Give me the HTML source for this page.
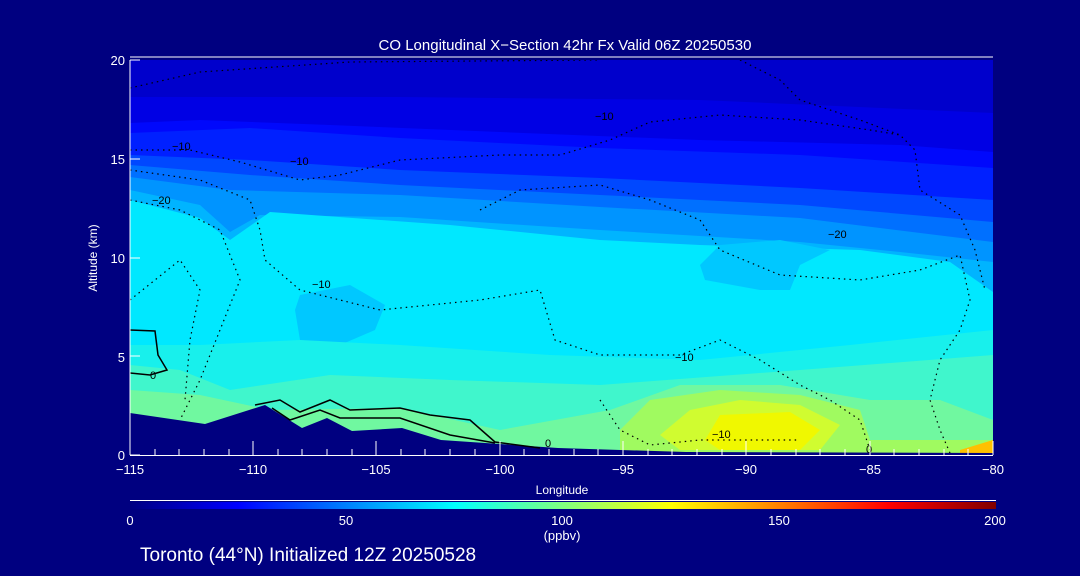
<!DOCTYPE html>
<html><head><meta charset="utf-8"><style>
html,body{margin:0;padding:0;background:#000080;}
svg{display:block;}
text{font-family:"Liberation Sans",sans-serif;fill:#fff;}
.cl{fill:#000;font-size:11px;}
</style></head><body>
<svg width="1080" height="576" viewBox="0 0 1080 576" xmlns="http://www.w3.org/2000/svg">
<rect width="1080" height="576" fill="#000080"/>
<defs>
<clipPath id="c"><rect x="130" y="60" width="863" height="395"/></clipPath>
<linearGradient id="cb" x1="0" x2="1" y1="0" y2="0">
<stop offset="0" stop-color="#000080"/>
<stop offset="0.125" stop-color="#0000ff"/>
<stop offset="0.375" stop-color="#00ffff"/>
<stop offset="0.5" stop-color="#80ff80"/>
<stop offset="0.625" stop-color="#ffff00"/>
<stop offset="0.875" stop-color="#ff0000"/>
<stop offset="1" stop-color="#800000"/>
</linearGradient>
</defs>
<g clip-path="url(#c)">
<rect x="130" y="60" width="863" height="395" fill="#0000cc"/>
<path d="M130 97 L400 97 L700 100 L993 113 L993 455 L130 455Z" fill="#0000e4"/>
<path d="M130 123 L200 120 L330 125 L500 132 L700 140 L900 145 L993 152 L993 455 L130 455Z" fill="#0008fc"/>
<path d="M130 133 L250 128 L400 138 L600 148 L800 155 L993 168 L993 455 L130 455Z" fill="#0020ff"/>
<path d="M130 155 L250 160 L400 170 L600 178 L800 188 L993 200 L993 455 L130 455Z" fill="#0048ff"/>
<path d="M130 165 L250 175 L400 185 L600 195 L800 205 L993 222 L993 455 L130 455Z" fill="#0070ff"/>
<path d="M130 177 L230 190 L400 195 L600 207 L800 218 L993 242 L993 455 L130 455Z" fill="#0094ff"/>
<path d="M130 190 L200 205 L230 232 L260 215 L400 217 L600 230 L800 242 L900 252 L993 262 L993 455 L130 455Z" fill="#00b4ff"/>
<path d="M130 200 L200 218 L230 240 L270 212 L450 225 L600 240 L700 245 L860 250 L950 262 L993 292 L993 455 L130 455Z" fill="#00e8ff"/>
<path d="M700 265 L720 245 L780 240 L830 250 L800 265 L790 290 L760 290 L705 280Z" fill="#00c8ff"/>
<path d="M295 310 L300 295 L350 285 L385 305 L375 330 L340 345 L300 340Z" fill="#00c8ff"/>
<path d="M130 345 L200 345 L300 340 L400 345 L550 355 L700 360 L850 345 L993 330 L993 455 L130 455Z" fill="#18f0ec"/>
<path d="M130 365 L180 370 L230 390 L330 375 L450 380 L600 385 L800 370 L993 355 L993 455 L130 455Z" fill="#40f6cc"/>
<path d="M130 390 L200 395 L270 410 L400 408 L500 430 L610 410 L680 385 L780 385 L870 400 L940 400 L993 420 L993 455 L130 455Z" fill="#70f8a0"/>
<path d="M620 430 L650 400 L720 390 L800 395 L860 410 L870 440 L993 440 L993 455 L620 455Z" fill="#a0fa60"/>
<path d="M660 435 L690 410 L740 400 L800 405 L840 425 L820 450 L680 450Z" fill="#d0fc30"/>
<path d="M705 440 L720 415 L790 412 L820 430 L800 450 L720 450Z" fill="#f0f800"/>
<path d="M960 450 L993 440 L993 455 L960 455Z" fill="#ffc000"/>
<path d="M130 413 L205 424 L265 405 L302 428 L327 418 L352 431 L402 428 L441 440 L558 448 L686 452 L997 453 L997 460 L130 460Z" fill="#000080"/>
<path d="M130 330 L155 331 L158 355 L167 370 L150 375 L130 373" fill="none" stroke="#000" stroke-width="1.5"/>
<path d="M255 405 L280 400 L300 412 L330 400 L350 410 L400 408 L430 415 L470 420 L495 442 L540 448" fill="none" stroke="#000" stroke-width="1.5"/>
<path d="M272 408 L290 420 L320 410 L340 418 L400 418 L450 435 L495 443" fill="none" stroke="#000" stroke-width="1.5"/>
<g fill="none" stroke="#000" stroke-width="1.2" stroke-dasharray="1.5 4">
<path d="M130 88 L200 72 L350 62 L600 60"/>
<path d="M740 60 L780 80 L800 100 L860 120 L900 135 L915 150 L920 190 L960 215 L975 250 L985 290"/>
<path d="M130 150 L190 150 L240 162 L300 180 L340 175 L400 160 L500 155 L560 155 L610 140 L650 122 L720 115 L800 120 L870 130 L900 135"/>
<path d="M130 170 L200 180 L250 200 L260 230 L265 260 L300 290 L340 300 L380 310 L480 300 L540 290 L555 340 L600 355 L680 355 L720 340 L760 360 L800 385 L830 400 L860 420 L870 450"/>
<path d="M130 200 L180 210 L220 230 L240 280 L220 330 L200 380 L180 420"/>
<path d="M130 300 L180 260 L200 290 L190 340 L185 400"/>
<path d="M480 210 L520 190 L600 185 L650 200 L700 220 L720 250 L780 275 L860 280 L920 270 L960 255 L970 300 L960 330 L940 360 L930 400 L940 430 L950 453"/>
<path d="M600 400 L620 430 L650 445 L700 440 L800 440"/>
</g>
<text class="cl" x="172" y="150">−10</text>
<text class="cl" x="290" y="165">−10</text>
<text class="cl" x="595" y="120">−10</text>
<text class="cl" x="152" y="204">−20</text>
<text class="cl" x="828" y="238">−20</text>
<text class="cl" x="312" y="288">−10</text>
<text class="cl" x="675" y="361">−10</text>
<text class="cl" x="712" y="438">−10</text>
<text class="cl" x="150" y="379">0</text>
<text class="cl" x="545" y="447">0</text>
<text class="cl" x="866" y="453">0</text>
</g>
<line x1="130" y1="57" x2="993" y2="57" stroke="#fff" stroke-width="1"/>
<line x1="130" y1="60" x2="130" y2="455" stroke="#fff" stroke-width="1"/>
<line x1="130" y1="455.5" x2="993" y2="455.5" stroke="#fff" stroke-width="1"/>
<g stroke="#fff" stroke-width="1">
<path d="M130 455v-14M253 455v-14M376 455v-14M500 455v-14M623 455v-14M746 455v-14M870 455v-14M993 455v-14"/>
<path d="M155 455v-6M179 455v-6M204 455v-6M229 455v-6M278 455v-6M302 455v-6M327 455v-6M352 455v-6M401 455v-6M425 455v-6M450 455v-6M475 455v-6M524 455v-6M549 455v-6M574 455v-6M598 455v-6M648 455v-6M672 455v-6M697 455v-6M722 455v-6M771 455v-6M796 455v-6M820 455v-6M845 455v-6M894 455v-6M919 455v-6M944 455v-6M968 455v-6"/>
<path d="M130 60h10M130 159h10M130 258h10M130 356h10M130 455h10"/>
</g>
<g font-size="13" text-anchor="middle">
<text x="130" y="474">−115</text><text x="253" y="474">−110</text><text x="376" y="474">−105</text>
<text x="500" y="474">−100</text><text x="623" y="474">−95</text><text x="746" y="474">−90</text>
<text x="870" y="474">−85</text><text x="993" y="474">−80</text>
<text x="562" y="494" font-size="12">Longitude</text>
<text x="565" y="50" font-size="15">CO Longitudinal X−Section 42hr  Fx Valid 06Z 20250530</text>
</g>
<g font-size="13" text-anchor="end">
<text x="125" y="65">20</text><text x="125" y="164">15</text><text x="125" y="263">10</text>
<text x="125" y="362">5</text><text x="125" y="460">0</text>
</g>
<text transform="translate(97 258) rotate(-90)" font-size="12" text-anchor="middle">Altitude (km)</text>
<line x1="130" y1="500.5" x2="996" y2="500.5" stroke="#fff"/>
<rect x="130" y="502" width="866" height="7" fill="url(#cb)"/>
<g font-size="13" text-anchor="middle">
<text x="130" y="525">0</text><text x="346" y="525">50</text><text x="562" y="525">100</text>
<text x="779" y="525">150</text><text x="995" y="525">200</text>
<text x="562" y="540">(ppbv)</text>
</g>
<text x="140" y="561" font-size="19">Toronto (44°N) Initialized 12Z 20250528</text>
</svg>
</body></html>
